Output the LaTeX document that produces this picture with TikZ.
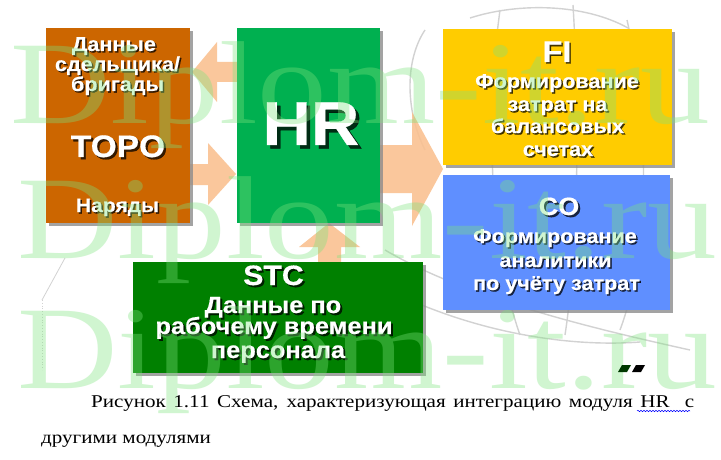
\documentclass[tikz,border=0pt]{standalone}
\usepackage{fontspec}
\setmainfont{Liberation Serif}
\newfontfamily\boxfont{Liberation Sans}[FakeStretch=1.08, BoldFeatures={FakeBold=0.5}]
\newfontfamily\capfont{Liberation Serif}[FakeStretch=1.17]
\newfontfamily\wmfont{Liberation Serif}[FakeStretch=1.18]
\usetikzlibrary{calc,shadows,decorations.pathmorphing}
\definecolor{toroC}{RGB}{204,102,0}
\definecolor{hrC}{RGB}{0,176,80}
\definecolor{fiC}{RGB}{255,204,0}
\definecolor{coC}{RGB}{95,143,255}
\definecolor{stcC}{RGB}{0,128,0}
\definecolor{arrC}{RGB}{250,192,143}
\definecolor{wmC}{RGB}{125,228,125}
\definecolor{sketchC}{RGB}{210,210,210}
\tikzset{
  modbox/.style={draw=none, inner sep=0, drop shadow={fill=black!45, opacity=0.8, shadow xshift=3pt, shadow yshift=-3pt}},
  tlabel/.style={anchor=base, inner sep=0, text=white},
  tshadow/.style={anchor=base, inner sep=0, text=black, text opacity=0.75},
  blockarrow/.style={fill=arrC, fill opacity=0.88},
  sketchline/.style={draw=sketchC, line width=1.4pt},
  wmark/.style={anchor=base west, inner sep=0, text=wmC, text opacity=0.36, font=\wmfont\fontsize{118}{118}\selectfont},
  capt/.style={anchor=base west, inner sep=0, text=black, font=\capfont\fontsize{18}{20}\selectfont}
}
% name, x, y, size, shadow offset, text
\newcommand\tline[6]{%
  \node[tshadow, font={\boxfont\bfseries\fontsize{#4}{#4}\selectfont}] (#1s) at ($(#2,#3)+(#5,#5)$) {#6};
  \node[tlabel, font={\boxfont\bfseries\fontsize{#4}{#4}\selectfont}] (#1) at (#2,#3) {#6};
}
\begin{document}
\begin{tikzpicture}[x=1pt,y=-1pt]
\useasboundingbox (0,0) rectangle (721,460);
\fill[white] (0,0) rectangle (721,460);

% faint background sketch
\draw[sketchline] (425,30) .. controls (405,60) and (405,110) .. (425,150);
\draw[sketchline] (470,18) .. controls (520,2) and (585,4) .. (628,28);
\draw[sketchline] (385,250) .. controls (470,300) and (600,330) .. (690,350);
\draw[sketchline] (410,300) .. controls (490,335) and (575,347) .. (640,342);
\draw[sketchline] (500,10) .. controls (485,120) and (490,250) .. (520,335);
\draw[sketchline] (573,5) .. controls (580,120) and (578,250) .. (565,335);
\draw[sketchline] (627,20) .. controls (650,120) and (650,250) .. (620,330);
\draw[draw=sketchC, line width=0.8pt] (65,258) -- (42,300);
\draw[draw=sketchC, line width=0.8pt, dotted] (42,300) -- (42,370);

% block arrows
\fill[blockarrow] (237,62) -- (217,62) -- (217,42) -- (192,72) -- (217,102) -- (217,82) -- (237,82) -- cycle;
\fill[blockarrow] (190,164) -- (208,164) -- (208,143) -- (236,174) -- (208,205) -- (208,185) -- (190,185) -- cycle;
\fill[blockarrow] (380,145) -- (412,145) -- (412,112) -- (443,169) -- (412,226) -- (412,193) -- (380,193) -- cycle;
\fill[blockarrow] (318,262) -- (318,247) -- (299,247) -- (329,223) -- (360,247) -- (341,247) -- (341,262) -- cycle;

% module boxes
\node[modbox, fill=toroC, minimum width=144pt, minimum height=195pt] (toro) at (118,125.5) {};
\node[modbox, fill=hrC, minimum width=143pt, minimum height=195pt] (hr) at (308.5,125.5) {};
\node[modbox, fill=fiC, minimum width=229pt, minimum height=136pt] (fi) at (557.5,97) {};
\node[modbox, fill=coC, minimum width=227pt, minimum height=135pt] (co) at (556.5,242.5) {};
\node[modbox, fill=stcC, minimum width=290pt, minimum height=111pt] (stc) at (278,317.5) {};

% TORO texts
\tline{t1}{114}{51}{20}{1.5}{Данные}
\tline{t2}{117.5}{71}{20}{1.5}{сдельщика/}
\tline{t3}{117.5}{91}{20}{1.5}{бригады}
\tline{t4}{118}{157}{31}{2.2}{TOPO}
\tline{t5}{117.5}{212}{19.5}{1.5}{Наряды}
% HR
\tline{h1}{311}{145}{62}{3.5}{HR}
% FI
\tline{f0}{557}{62}{30}{1.5}{FI}
\tline{f1}{557}{88}{20}{1.5}{Формирование}
\tline{f2}{557.5}{111}{20}{1.5}{затрат на}
\tline{f3}{557.5}{133}{20}{1.5}{балансовых}
\tline{f4}{558}{156}{20}{1.5}{счетах}
% CO
\tline{c0}{559}{215}{25}{2}{CO}
\tline{c1}{555}{243}{20}{1.5}{Формирование}
\tline{c2}{555.5}{267}{20}{1.5}{аналитики}
\tline{c3}{556.5}{290}{20}{1.5}{по учёту затрат}
% STC
\tline{s0}{273.5}{285}{28}{2}{STC}
\tline{s1}{273}{313}{23.5}{2}{Данные по}
\tline{s2}{274}{334}{23.5}{2}{рабочему времени}
\tline{s3}{278}{358}{23.5}{2}{персонала}

% watermark
\node[wmark] (wm1) at (10,124) {Diplom-it.ru};
\node[wmark] (wm2) at (17,258) {Diplom-it.ru};
\node[wmark] (wm3) at (17,388) {Diplom-it.ru};

% small marks
\fill[black!45!green!40!black] (618,372) -- (622,365) -- (631,365) -- (627,372) -- cycle;
\fill[black] (632,372) -- (636,365) -- (645,365) -- (641,372) -- cycle;

% caption
\node[capt] (cap1) at (91,407) {\makebox[603pt][s]{Рисунок 1.11 Схема, характеризующая интеграцию модуля HR\ \ с}};
\node[capt] (cap2) at (41,443) {другими модулями};
\draw[blue, line width=0.5pt, decorate, decoration={snake, amplitude=0.7pt, segment length=3pt}] (637,411) -- (690,411);
\end{tikzpicture}
\end{document}
